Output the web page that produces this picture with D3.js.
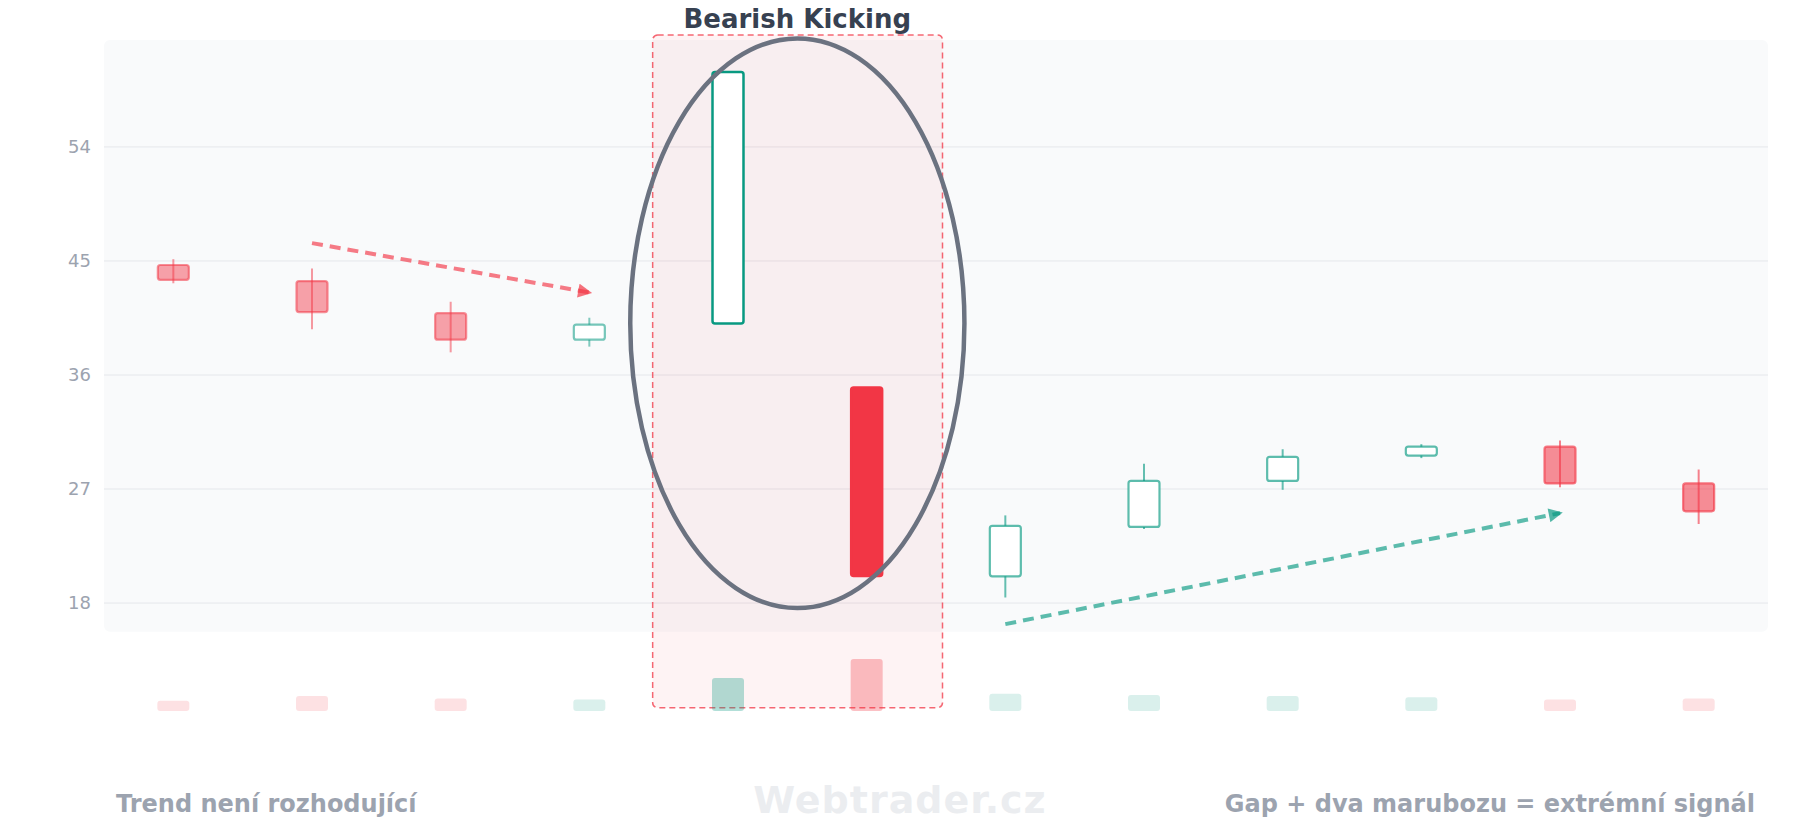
<!DOCTYPE html>
<html>
<head>
<meta charset="utf-8">
<script src="https://cdn.jsdelivr.net/npm/d3@7"></script>
<style>
  html, body { margin: 0; padding: 0; background: #ffffff; }
  svg { display: block; font-family: "DejaVu Sans", sans-serif; }
</style>
</head>
<body>
<svg id="chart" width="1800" height="840"></svg>
<script>
// ---- data ----
const sessions = ["1","2","3","4","5","6","7","8","9","10","11","12"];
const opens  = [44.64, 43.37, 40.84, 38.75, 40.02, 34.97, 20.07, 23.97, 27.60, 29.60, 30.30, 27.40];
const highs  = [45.10, 44.37, 41.74, 40.48, 59.87, 34.97, 24.88, 28.96, 30.10, 30.50, 30.80, 28.50];
const lows   = [43.20, 39.57, 37.75, 38.20, 40.02, 20.10, 18.40, 23.80, 26.90, 29.40, 27.10, 24.20];
const closes = [43.47, 40.93, 38.75, 39.93, 59.87, 20.10, 24.06, 27.60, 29.50, 30.30, 27.40, 25.20];
const volumes = [1030, 1500, 1260, 1150, 3300, 5200, 1720, 1600, 1500, 1380, 1150, 1260];
const yTicks = [18, 27, 36, 45, 54];
const patternIdx = [4, 5];
const title = "Bearish Kicking";
const noteLeft = "Trend není rozhodující";
const noteRight = "Gap + dva marubozu = extrémní signál";
const watermark = "Webtrader.cz";
// trend arrows: [startIndex, startValue, endIndex, endValue]
const downTrend = [1, 46.37, 3, 42.47];
const upTrend = [6, 16.30, 10, 25.06];
// ellipse around the pattern: [topValue, bottomValue]
const ellipseSpan = [62.52, 17.57];

// ---- layout ----
const RED = "#f23645", GREEN = "#089981";
const L = 104, R = 1768, T = 40, B = 631.7;
const svg = d3.select("#chart");

const x = d3.scaleBand().domain(d3.range(sessions.length)).range([L, R]);
const xc = i => x(i) + x.bandwidth() / 2;
const y = d3.scaleLinear().domain([15.7, 62.4]).range([B, T]);
const yVol = d3.scaleLinear().domain([0, 5200]).range([711, 659]);

const candles = sessions.map((s, i) => ({
  i, s, o: opens[i], h: highs[i], l: lows[i], c: closes[i], v: volumes[i],
  up: closes[i] >= opens[i], pat: patternIdx.includes(i), before: i < patternIdx[0]
}));

// defs: arrow markers
const defs = svg.append("defs");
function marker(id, color) {
  defs.append("marker").attr("id", id)
    .attr("viewBox", "0 0 10 10").attr("refX", 8).attr("refY", 5)
    .attr("markerUnits", "userSpaceOnUse")
    .attr("markerWidth", 16).attr("markerHeight", 14).attr("orient", "auto")
    .append("path").attr("d", "M0,0 L10,5 L0,10 Z")
    .attr("fill", color).attr("fill-opacity", 0.7);
}
marker("arrRed", RED);
marker("arrGreen", GREEN);

// plot background
svg.append("rect").attr("x", L).attr("y", T).attr("width", R - L).attr("height", B - T)
  .attr("rx", 6).attr("fill", "#f9fafb");

// grid + axis
const axis = svg.append("g").attr("transform", `translate(${L},0)`)
  .call(d3.axisLeft(y).tickValues(yTicks).tickSize(-(R - L)).tickPadding(13));
axis.select(".domain").remove();
axis.selectAll(".tick line").attr("stroke", "#e5e7eb").attr("stroke-width", 1);
axis.selectAll(".tick text").attr("fill", "#9ca3af").attr("font-size", 18)
  .attr("font-family", "DejaVu Sans, sans-serif");

// pattern highlight
const hx0 = x(patternIdx[0]) - 6, hx1 = x(patternIdx[1]) + x.bandwidth() + 6.5;
svg.append("rect").attr("x", hx0).attr("y", 35).attr("width", hx1 - hx0).attr("height", 707.7 - 35)
  .attr("rx", 5).attr("fill", RED).attr("fill-opacity", 0.06)
  .attr("stroke", RED).attr("stroke-opacity", 0.75).attr("stroke-width", 1.5)
  .attr("stroke-dasharray", "6,4");

// volume bars
const bw = 31;
svg.append("g").selectAll("rect").data(candles).join("rect")
  .attr("x", d => xc(d.i) - bw / 2 - 0.5)
  .attr("y", d => yVol(d.v))
  .attr("width", bw + 1)
  .attr("height", d => yVol(0) - yVol(d.v))
  .attr("rx", 3)
  .attr("fill", d => d.up ? GREEN : RED)
  .attr("fill-opacity", d => d.pat ? 0.31 : 0.15);

// candles
const cg = svg.append("g").selectAll("g").data(candles).join("g");
cg.filter(d => !d.pat).append("line")
  .attr("x1", d => xc(d.i)).attr("x2", d => xc(d.i))
  .attr("y1", d => y(d.h)).attr("y2", d => y(d.l))
  .attr("stroke", d => d.up ? GREEN : RED)
  .attr("stroke-opacity", d => d.before ? 0.5 : 0.62)
  .attr("stroke-width", 2);
cg.append("rect")
  .attr("x", d => xc(d.i) - bw / 2)
  .attr("y", d => y(Math.max(d.o, d.c)))
  .attr("width", bw)
  .attr("height", d => Math.max(1, Math.abs(y(d.o) - y(d.c))))
  .attr("rx", 2.5)
  .attr("fill", d => d.up ? "#ffffff" : RED)
  .attr("fill-opacity", d => d.up ? 1 : (d.pat ? 1 : (d.before ? 0.46 : 0.56)))
  .attr("stroke", d => d.up ? GREEN : RED)
  .attr("stroke-opacity", d => d.pat ? 1 : (d.before ? 0.55 : 0.65))
  .attr("stroke-width", d => d.pat ? 2.5 : 2.2);

// ellipse around pattern
const ecx = (xc(patternIdx[0]) + xc(patternIdx[1])) / 2;
const eTop = y(ellipseSpan[0]), eBot = y(ellipseSpan[1]);
svg.append("ellipse")
  .attr("cx", ecx).attr("cy", (eTop + eBot) / 2)
  .attr("rx", x.bandwidth() * 1.205).attr("ry", (eBot - eTop) / 2)
  .attr("fill", "none").attr("stroke", "#6b7280").attr("stroke-width", 4.5);

// trend arrows
function arrow(a, color, mk) {
  svg.append("line")
    .attr("x1", xc(a[0])).attr("y1", y(a[1]))
    .attr("x2", xc(a[2])).attr("y2", y(a[3]))
    .attr("stroke", color).attr("stroke-opacity", 0.65)
    .attr("stroke-width", 4).attr("stroke-dasharray", "11,7")
    .attr("marker-end", `url(#${mk})`);
}
arrow(downTrend, RED, "arrRed");
arrow(upTrend, GREEN, "arrGreen");

// title
svg.append("text").attr("x", ecx).attr("y", 28).attr("text-anchor", "middle")
  .attr("font-size", 26).attr("font-weight", "bold").attr("fill", "#374151")
  .text(title);

// footer texts
svg.append("text").attr("x", 116).attr("y", 812)
  .attr("font-size", 24).attr("font-weight", "bold").attr("fill", "#9ca3af")
  .text(noteLeft);
svg.append("text").attr("x", 900).attr("y", 812.5).attr("text-anchor", "middle")
  .attr("font-size", 38).attr("font-weight", "bold").attr("letter-spacing", 1)
  .attr("fill", "#e5e7eb").attr("fill-opacity", 0.75)
  .text(watermark);
svg.append("text").attr("x", 1755).attr("y", 812).attr("text-anchor", "end")
  .attr("font-size", 24).attr("font-weight", "bold").attr("fill", "#9ca3af")
  .text(noteRight);
</script>
</body>
</html>
